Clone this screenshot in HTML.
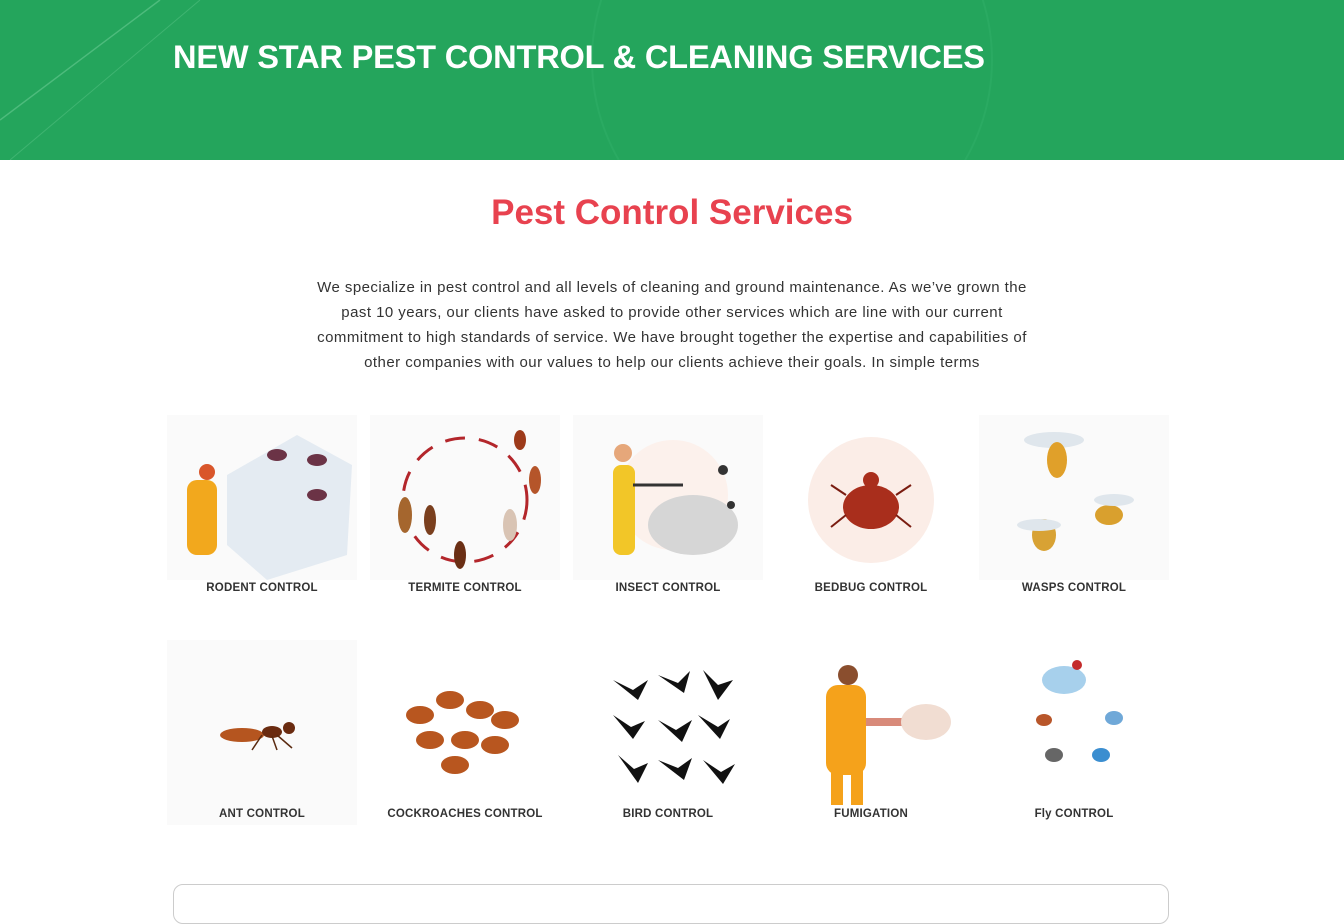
<!DOCTYPE html>
<html><head><meta charset="utf-8"><style>
*{margin:0;padding:0;box-sizing:border-box}
body{width:1344px;height:893px;overflow:hidden;background:#fff;font-family:"Liberation Sans",sans-serif;position:relative}
.hdr{position:absolute;left:0;top:0;width:1344px;height:160px;background:#24a55c;overflow:hidden}
.hdr h1{position:absolute;left:173px;top:38px;color:#fff;font-size:32.6px;font-weight:bold;letter-spacing:-0.2px;white-space:nowrap}
h2{position:absolute;top:193px;width:100%;text-align:center;color:#e8424f;font-size:35px;font-weight:bold}
.p{position:absolute;top:275px;left:272px;width:800px;text-align:center;font-size:15px;line-height:25px;color:#333;white-space:nowrap;letter-spacing:0.45px}
.card{position:absolute;width:190px;text-align:center}
.card .img{position:relative;width:190px;height:165px;background:#fafafa}
.card .lbl{position:absolute;width:220px;left:-15px;font-size:11.5px;font-weight:bold;color:#333;letter-spacing:.2px}
.box{position:absolute;left:173px;top:884px;width:996px;height:40px;border:1px solid #ccc;border-radius:10px}
</style></head><body>
<div class="hdr">
<svg width="1344" height="160" style="position:absolute;left:0;top:0"><line x1="0" y1="120" x2="160" y2="0" stroke="#4dbb7c" stroke-width="1.5"/><line x1="10" y1="160" x2="200" y2="0" stroke="#3fb471" stroke-width="1"/><circle cx="792" cy="60" r="200" fill="none" stroke="#2aaa62" stroke-width="2"/></svg>
<h1>NEW STAR PEST CONTROL &amp; CLEANING SERVICES</h1></div>
<h2>Pest Control Services</h2>
<p class="p">We specialize in pest control and all levels of cleaning and ground maintenance. As we’ve grown the<br>past 10 years, our clients have asked to provide other services which are line with our current<br>commitment to high standards of service. We have brought together the expertise and capabilities of<br>other companies with our values to help our clients achieve their goals. In simple terms</p>

<div class="card" style="left:167px;top:415px"><div class="img"><svg width="190" height="165"><polygon points="60,60 130,20 185,50 180,140 100,165 60,130" fill="#e4ebf2"/><rect x="20" y="65" width="30" height="75" rx="10" fill="#f2a81d"/><circle cx="40" cy="57" r="8" fill="#d9562b"/><ellipse cx="110" cy="40" rx="10" ry="6" fill="#6b3346"/><ellipse cx="150" cy="45" rx="10" ry="6" fill="#6b3346"/><ellipse cx="150" cy="80" rx="10" ry="6" fill="#6b3346"/></svg></div><div class="lbl" style="top:167px">RODENT CONTROL</div></div>

<div class="card" style="left:370px;top:415px"><div class="img"><svg width="190" height="165"><circle cx="95" cy="85" r="62" fill="none" stroke="#b3262b" stroke-width="3" stroke-dasharray="20 14"/><ellipse cx="35" cy="100" rx="7" ry="18" fill="#a5662e"/><ellipse cx="60" cy="105" rx="6" ry="15" fill="#7a3f1e"/><ellipse cx="90" cy="140" rx="6" ry="14" fill="#6a2e14"/><ellipse cx="140" cy="110" rx="7" ry="16" fill="#d9c4b4"/><ellipse cx="165" cy="65" rx="6" ry="14" fill="#b5552a"/><ellipse cx="150" cy="25" rx="6" ry="10" fill="#9d3a1a"/></svg></div><div class="lbl" style="top:167px">TERMITE CONTROL</div></div>

<div class="card" style="left:573px;top:415px"><div class="img"><svg width="190" height="165"><circle cx="100" cy="80" r="55" fill="#fcf1ec"/><ellipse cx="120" cy="110" rx="45" ry="30" fill="#d6d6d6"/><rect x="40" y="50" width="22" height="90" rx="8" fill="#f2c628"/><circle cx="50" cy="38" r="9" fill="#e6a77a"/><line x1="60" y1="70" x2="110" y2="70" stroke="#333" stroke-width="3"/><circle cx="150" cy="55" r="5" fill="#333"/><circle cx="158" cy="90" r="4" fill="#333"/></svg></div><div class="lbl" style="top:167px">INSECT CONTROL</div></div>

<div class="card" style="left:776px;top:415px"><div class="img" style="background:#fff"><svg width="190" height="165"><circle cx="95" cy="85" r="63" fill="#fbede7"/><ellipse cx="95" cy="92" rx="28" ry="22" fill="#a92e1c"/><circle cx="95" cy="65" r="8" fill="#a92e1c"/><g stroke="#7a1c10" stroke-width="2"><line x1="70" y1="80" x2="55" y2="70"/><line x1="120" y1="80" x2="135" y2="70"/><line x1="70" y1="100" x2="55" y2="112"/><line x1="120" y1="100" x2="135" y2="112"/></g></svg></div><div class="lbl" style="top:167px">BEDBUG CONTROL</div></div>

<div class="card" style="left:979px;top:415px"><div class="img"><svg width="190" height="165"><ellipse cx="75" cy="25" rx="30" ry="8" fill="#dfe6ec"/><ellipse cx="78" cy="45" rx="10" ry="18" fill="#e0a02a"/><ellipse cx="130" cy="100" rx="14" ry="10" fill="#d9a02e"/><ellipse cx="135" cy="85" rx="20" ry="6" fill="#dfe6ec"/><ellipse cx="65" cy="120" rx="12" ry="16" fill="#d8a234"/><ellipse cx="60" cy="110" rx="22" ry="6" fill="#dfe6ec"/></svg></div><div class="lbl" style="top:167px">WASPS CONTROL</div></div>

<div class="card" style="left:167px;top:640px"><div class="img" style="height:185px"><svg width="190" height="185"><ellipse cx="75" cy="95" rx="22" ry="7" fill="#b5551f"/><ellipse cx="105" cy="92" rx="10" ry="6" fill="#6a2b10"/><circle cx="122" cy="88" r="6" fill="#6a2b10"/><g stroke="#5a2a10" stroke-width="1.5"><line x1="95" y1="95" x2="85" y2="110"/><line x1="105" y1="96" x2="110" y2="110"/><line x1="110" y1="95" x2="125" y2="108"/></g></svg></div><div class="lbl" style="top:168px">ANT CONTROL</div></div>

<div class="card" style="left:370px;top:640px"><div class="img" style="height:185px;background:#fff"><svg width="190" height="185"><g fill="#b8561f"><ellipse cx="50" cy="75" rx="14" ry="9"/><ellipse cx="80" cy="60" rx="14" ry="9"/><ellipse cx="110" cy="70" rx="14" ry="9"/><ellipse cx="135" cy="80" rx="14" ry="9"/><ellipse cx="60" cy="100" rx="14" ry="9"/><ellipse cx="95" cy="100" rx="14" ry="9"/><ellipse cx="125" cy="105" rx="14" ry="9"/><ellipse cx="85" cy="125" rx="14" ry="9"/></g></svg></div><div class="lbl" style="top:168px">COCKROACHES CONTROL</div></div>

<div class="card" style="left:573px;top:640px"><div class="img" style="height:185px;background:#fff"><svg width="190" height="185"><g fill="#111"><path d="M40 40 l20 10 l15 -10 l-10 20 z"/><path d="M85 35 l20 8 l12 -12 l-6 22 z"/><path d="M130 30 l15 15 l15 -5 l-15 20 z"/><path d="M40 75 l18 12 l14 -6 l-12 18 z"/><path d="M85 80 l18 10 l16 -10 l-10 22 z"/><path d="M125 75 l20 12 l12 -8 l-10 20 z"/><path d="M45 115 l16 14 l14 -6 l-10 20 z"/><path d="M85 120 l20 8 l14 -10 l-8 22 z"/><path d="M130 120 l18 12 l14 -8 l-12 20 z"/></g></svg></div><div class="lbl" style="top:168px">BIRD CONTROL</div></div>

<div class="card" style="left:776px;top:640px"><div class="img" style="height:185px;background:#fff"><svg width="190" height="185"><rect x="50" y="45" width="40" height="90" rx="12" fill="#f5a21b"/><circle cx="72" cy="35" r="10" fill="#8a4e2e"/><rect x="55" y="130" width="12" height="35" fill="#f5a21b"/><rect x="75" y="130" width="12" height="35" fill="#f5a21b"/><rect x="90" y="78" width="40" height="8" fill="#d88a7a"/><ellipse cx="150" cy="82" rx="25" ry="18" fill="#f1ddd2"/></svg></div><div class="lbl" style="top:168px">FUMIGATION</div></div>

<div class="card" style="left:979px;top:640px"><div class="img" style="height:185px;background:#fff"><svg width="190" height="185"><ellipse cx="85" cy="40" rx="22" ry="14" fill="#a7d0ec"/><circle cx="98" cy="25" r="5" fill="#c42b2b"/><ellipse cx="65" cy="80" rx="8" ry="6" fill="#b8562a"/><ellipse cx="135" cy="78" rx="9" ry="7" fill="#6fa8d8"/><ellipse cx="75" cy="115" rx="9" ry="7" fill="#666"/><ellipse cx="122" cy="115" rx="9" ry="7" fill="#3b8ed0"/></svg></div><div class="lbl" style="top:168px">Fly CONTROL</div></div>

<div class="box"></div>
</body></html>
